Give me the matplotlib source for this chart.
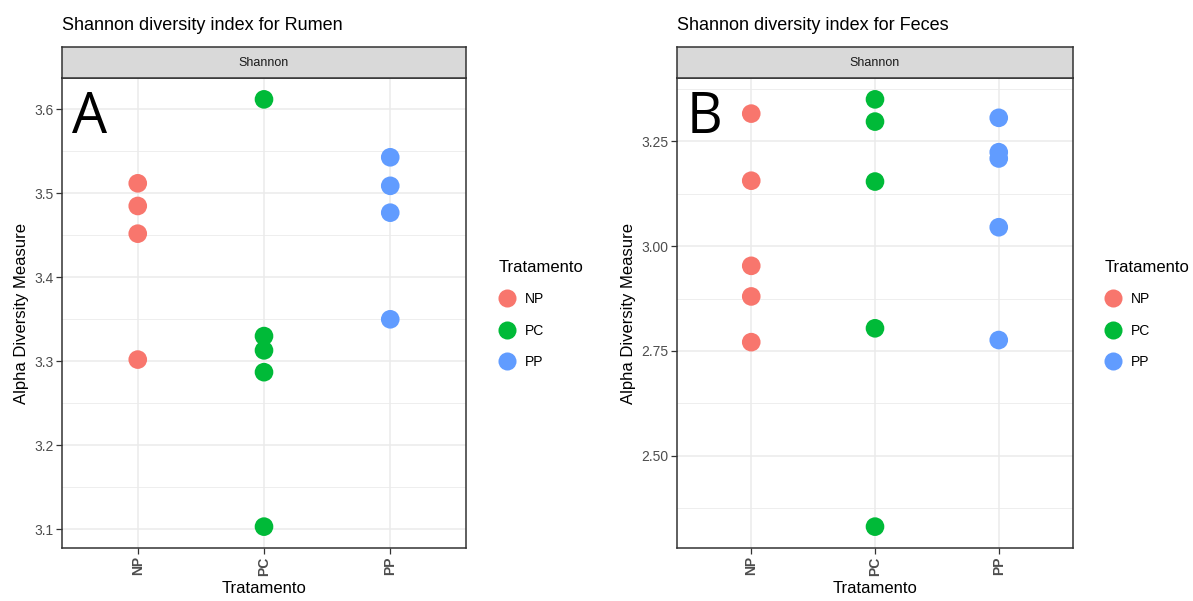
import numpy as np
import matplotlib
matplotlib.use("Agg")
import matplotlib.pyplot as plt
from matplotlib.lines import Line2D

plt.rcParams["font.family"] = ["Liberation Sans", "DejaVu Sans"]

# treatment groups
groups = ["NP", "PC", "PP"]
colors = {"NP": "#F8766D", "PC": "#00BA38", "PP": "#619CFF"}

# Shannon index, rumen samples
rumen_np = [3.512, 3.485, 3.452, 3.302]
rumen_pc = [3.612, 3.330, 3.313, 3.287, 3.103]
rumen_pp = [3.543, 3.509, 3.477, 3.350]

# Shannon index, feces samples
feces_np = [3.316, 3.156, 2.953, 2.880, 2.771]
feces_pc = [3.350, 3.297, 3.154, 2.804, 2.331]
feces_pp = [3.306, 3.224, 3.209, 3.045, 2.776]

rumen_ticks = [3.1, 3.2, 3.3, 3.4, 3.5, 3.6]
rumen_labels = ["3.1", "3.2", "3.3", "3.4", "3.5", "3.6"]
feces_ticks = [2.50, 2.75, 3.00, 3.25]
feces_labels = ["2.50", "2.75", "3.00", "3.25"]

W, H = 1193, 601
fig = plt.figure(figsize=(W / 100, H / 100), dpi=100)

GRID = "#EBEBEB"
DARK = "#333333"
TXT = "#4D4D4D"


def px(l, t, r, b):
    return [l / W, 1 - b / H, (r - l) / W, (b - t) / H]


def panel(left, right, data, ticks, labels, title, letter, leg_x):
    ax = fig.add_axes(px(left, 78, right, 548))
    strip = fig.add_axes(px(left, 47, right, 78))
    strip.set_facecolor("#D9D9D9")
    strip.set_xticks([])
    strip.set_yticks([])
    for s in strip.spines.values():
        s.set_color(DARK)
        s.set_linewidth(1.1)
    strip.text(0.5, 0.5, "Shannon", ha="center", va="center", fontsize=9,
               color="#1A1A1A", transform=strip.transAxes)
    fig.text(left / W, 1 - 26 / H, title, ha="left", va="center",
             fontsize=13, color="black")

    allv = np.concatenate([np.array(v) for v in data])
    lo, hi = allv.min(), allv.max()
    pad = (hi - lo) * 0.05
    ax.set_ylim(lo - pad, hi + pad)
    ax.set_xlim(-0.6, 2.6)

    # minor grid between major ticks
    step = ticks[1] - ticks[0]
    minors = [t + step / 2 for t in [ticks[0] - step] + ticks]
    for m in minors:
        ax.axhline(m, color=GRID, lw=0.6, zorder=0)
    for t in ticks:
        ax.axhline(t, color=GRID, lw=1.1, zorder=0)
    for i in range(3):
        ax.axvline(i, color=GRID, lw=1.1, zorder=0)

    for i, (g, vals) in enumerate(zip(groups, data)):
        ax.scatter([i] * len(vals), vals, s=180, color=colors[g],
                   edgecolors="none", zorder=3)

    ax.set_xticks(range(3))
    ax.set_xticklabels(groups, rotation=90, fontsize=10, fontweight="bold",
                       color=TXT)
    ax.set_yticks(ticks)
    ax.set_yticklabels(labels, fontsize=10, color=TXT)
    ax.tick_params(length=4, width=0.9, color=DARK, pad=2)
    for s in ax.spines.values():
        s.set_color(DARK)
        s.set_linewidth(1.1)
    ax.set_xlabel("Tratamento", fontsize=12, labelpad=4)
    ax.set_ylabel("Alpha Diversity Measure", fontsize=12, labelpad=4)
    ax.text(0.025, 0.975, letter, transform=ax.transAxes, fontsize=40,
            ha="left", va="top", family="Open Sans")

    handles = [Line2D([], [], marker="o", ls="", ms=13, color=colors[g],
                      markeredgewidth=0) for g in groups]
    fig.legend(handles, groups, title="Tratamento", loc="upper left",
               bbox_to_anchor=(leg_x / W, 1 - 253 / H), frameon=False,
               fontsize=10, title_fontsize=12, labelspacing=1.25,
               handletextpad=0.7, borderpad=0, handlelength=1.2,
               alignment="left")
    return ax


panel(62, 466, [rumen_np, rumen_pc, rumen_pp], rumen_ticks, rumen_labels,
      "Shannon diversity index for Rumen", "A", 492)
panel(677, 1073, [feces_np, feces_pc, feces_pp], feces_ticks, feces_labels,
      "Shannon diversity index for Feces", "B", 1098)

fig.savefig("out.png", dpi=100)
